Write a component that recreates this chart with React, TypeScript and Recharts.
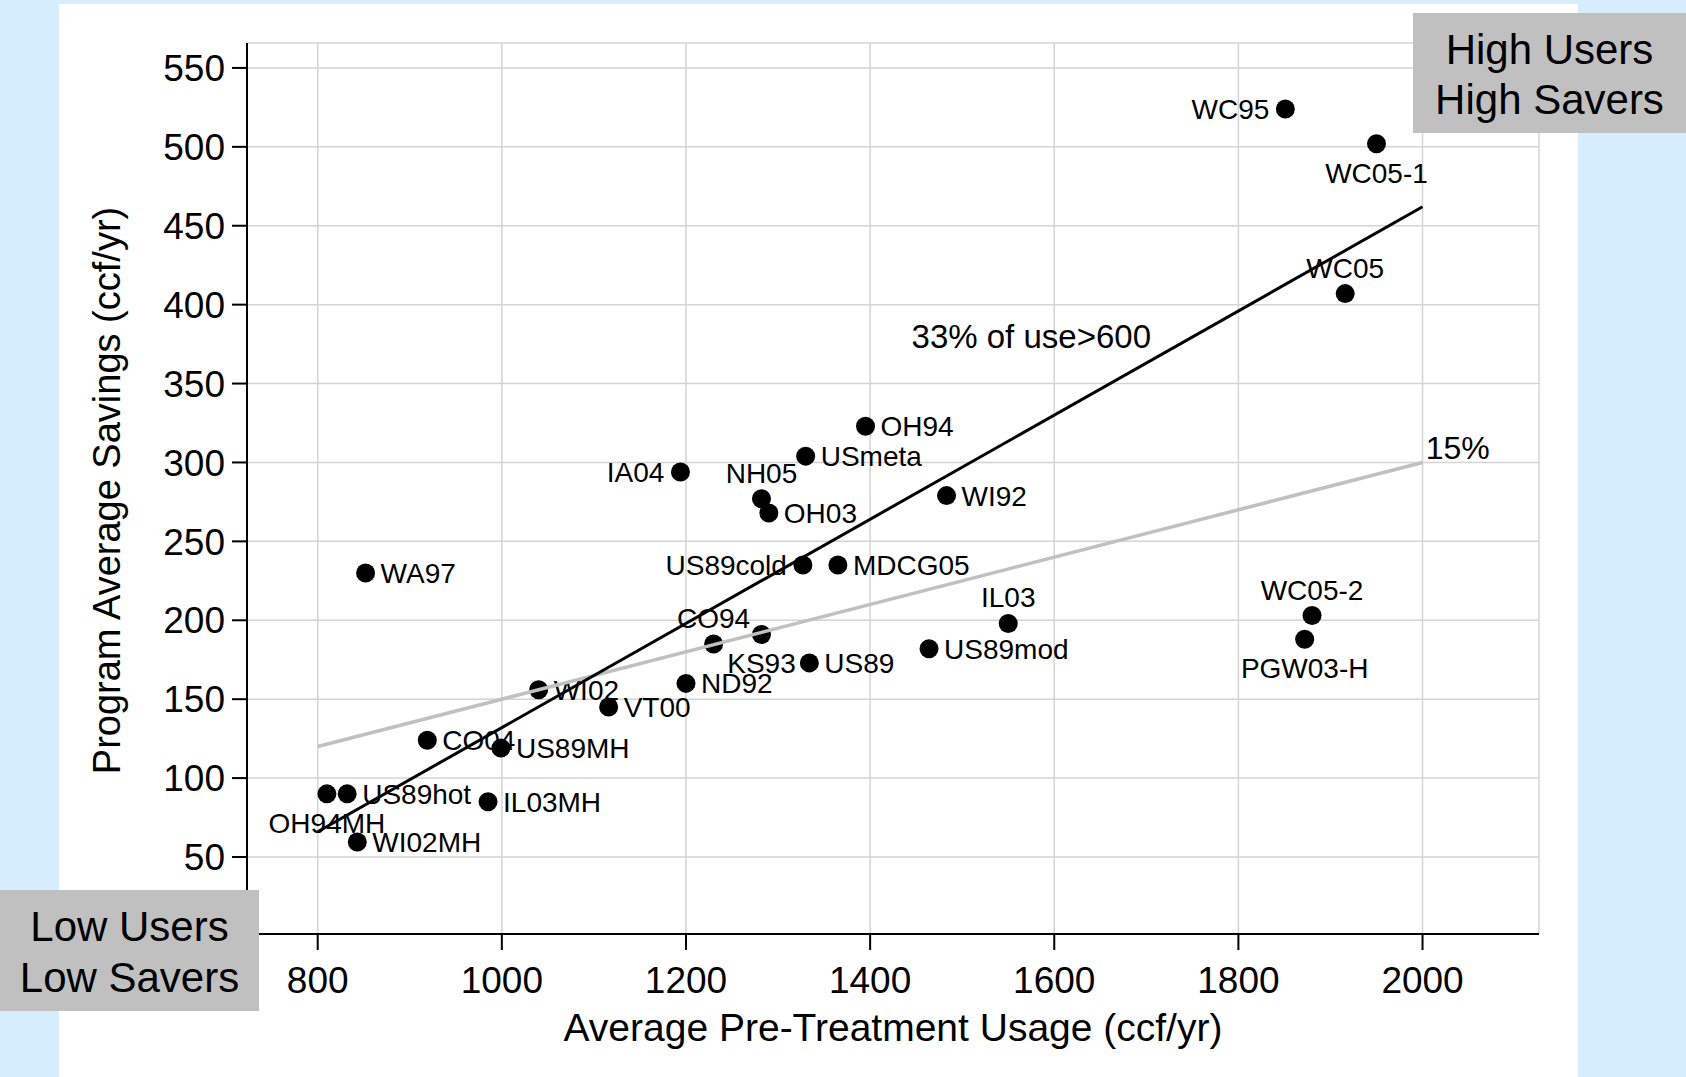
import React from "react";
import {
  ScatterChart,
  Scatter,
  XAxis,
  YAxis,
  CartesianGrid,
} from "recharts";

// programs: pre-treatment usage (ccf/yr) vs. average savings (ccf/yr)
const programs = [
  "WC95", "WC05-1", "WC05", "WC05-2", "PGW03-H", "OH94", "USmeta", "IA04",
  "NH05", "OH03", "WI92", "US89cold", "MDCG05", "IL03", "US89mod", "CO94",
  "KS93", "US89", "ND92", "WI02", "VT00", "CO04", "US89MH", "WA97",
  "US89hot", "OH94MH", "IL03MH", "WI02MH",
];
const usage = [
  1851, 1950, 1916, 1880, 1872, 1395, 1330, 1194,
  1282, 1290, 1483, 1327, 1365, 1550, 1464, 1230,
  1282, 1334, 1200, 1040, 1116, 919, 999, 852,
  832, 810, 985, 843,
];
const savings = [
  524, 502, 407, 203, 188, 323, 304, 294,
  277, 268, 279, 235, 235, 198, 182, 185,
  191, 173, 160, 156, 145, 124, 119, 230,
  90, 90, 85, 59.5,
];
// where each program's label sits: r = right, l = left, t = above, b = below
const labelSide = [
  "l", "b", "t", "t", "b", "r", "r", "l",
  "t", "r", "r", "l", "r", "t", "r", "t",
  "b", "r", "r", "r", "r", "r", "r", "r",
  "r", "b", "r", "r",
];

// reference lines: 33% of use above 600, and 15% of use
const line33Usage = [800, 2000];
const line33Savings = [66, 462];
const line15Usage = [800, 2000];
const line15Savings = [120, 300];

const noteText = ["33% of use>600", "15%"];
const noteUsage = [1445, 2003.5];
const noteSavings = [372.5, 302.5];
const noteSize = [33, 32];

const xTicks = [800, 1000, 1200, 1400, 1600, 1800, 2000];
const yTicks = [50, 100, 150, 200, 250, 300, 350, 400, 450, 500, 550];

const points = programs.map((name, i) => ({
  name,
  x: usage[i],
  y: savings[i],
  side: labelSide[i],
}));
const line33 = line33Usage.map((x, i) => ({ x, y: line33Savings[i] }));
const line15 = line15Usage.map((x, i) => ({ x, y: line15Savings[i] }));
const notes = noteText.map((text, i) => ({
  text,
  x: noteUsage[i],
  y: noteSavings[i],
  size: noteSize[i],
}));

const FONT = '"Liberation Sans", Arial, Helvetica, sans-serif';

const PointShape = (props: any) => {
  const { cx, cy, payload } = props;
  if (cx == null || cy == null) return <g />;
  let tx = cx;
  let ty = cy + 10;
  let anchor: "start" | "middle" | "end" = "start";
  if (payload.side === "r") {
    tx = cx + 15;
  } else if (payload.side === "l") {
    tx = cx - 16;
    anchor = "end";
  } else if (payload.side === "t") {
    ty = cy - 16;
    anchor = "middle";
  } else {
    ty = cy + 39;
    anchor = "middle";
  }
  return (
    <g>
      <circle cx={cx} cy={cy} r={9.5} fill="#000" />
      <text x={tx} y={ty} textAnchor={anchor} fontSize={28} fill="#000">
        {payload.name}
      </text>
    </g>
  );
};

const NoteShape = (props: any) => {
  const { cx, cy, payload } = props;
  return (
    <text x={cx} y={cy} fontSize={payload.size} fill="#000">
      {payload.text}
    </text>
  );
};

const Empty = () => <g />;

const XTitle = (props: any) => {
  const vb = props.viewBox || { x: 247, y: 934, width: 1292 };
  return (
    <text x={vb.x + vb.width / 2} y={vb.y + 107} textAnchor="middle" fontSize={39} fill="#000">
      Average Pre-Treatment Usage (ccf/yr)
    </text>
  );
};

const YTitle = (props: any) => {
  const vb = props.viewBox || { x: 127, y: 43, width: 120, height: 891 };
  const bx = vb.x + vb.width - 127;
  const cy = vb.y + vb.height / 2 + 2;
  return (
    <text
      transform={`translate(${bx},${cy}) rotate(-90)`}
      textAnchor="middle"
      fontSize={38}
      fill="#000"
    >
      Program Average Savings (ccf/yr)
    </text>
  );
};

export default function App() {
  return (
    <div
      style={{
        position: "absolute",
        left: 0,
        top: 0,
        width: 1686,
        height: 1077,
        background: "#D5EDFC",
        overflow: "hidden",
        fontFamily: FONT,
      }}
    >
      <div
        style={{
          position: "absolute",
          left: 59,
          top: 4,
          width: 1519,
          height: 1073,
          background: "#fff",
        }}
      />
      <div style={{ position: "absolute", left: 0, top: 0 }}>
        <ScatterChart
          width={1686}
          height={1077}
          margin={{ top: 43, right: 147, bottom: 43, left: 127 }}
          style={{ fontFamily: FONT }}
        >
          <CartesianGrid stroke="#d4d4d4" strokeWidth={1.5} />
          <XAxis
            type="number"
            dataKey="x"
            domain={[723.2, 2126.5]}
            allowDataOverflow
            ticks={xTicks}
            interval={0}
            height={100}
            tickSize={16}
            tickMargin={17}
            axisLine={{ stroke: "#000", strokeWidth: 2 }}
            tickLine={{ stroke: "#000", strokeWidth: 2 }}
            tick={{ fill: "#000", fontSize: 37 }}
            label={XTitle}
          />
          <YAxis
            type="number"
            dataKey="y"
            domain={[1.2, 565.8]}
            allowDataOverflow
            ticks={yTicks}
            interval={0}
            width={120}
            tickSize={15}
            tickMargin={7}
            axisLine={{ stroke: "#000", strokeWidth: 2 }}
            tickLine={{ stroke: "#000", strokeWidth: 2 }}
            tick={{ fill: "#000", fontSize: 37 }}
            label={YTitle}
          />
          <Scatter data={points} shape={PointShape} isAnimationActive={false} />
          <Scatter
            data={line15}
            line={{ stroke: "#c0c0c0", strokeWidth: 3.5 }}
            shape={Empty}
            isAnimationActive={false}
          />
          <Scatter
            data={line33}
            line={{ stroke: "#000", strokeWidth: 3 }}
            shape={Empty}
            isAnimationActive={false}
          />
          <Scatter data={notes} shape={NoteShape} isAnimationActive={false} />
        </ScatterChart>
      </div>
      <svg
        width={1686}
        height={1077}
        style={{ position: "absolute", left: 0, top: 0, pointerEvents: "none" }}
      >
        <rect x={1413} y={13} width={273} height={120} fill="#c0c0c0" />
        <text x={1549.5} y={64} textAnchor="middle" fontSize={42} fill="#000">
          High Users
        </text>
        <text x={1549.5} y={114} textAnchor="middle" fontSize={42} fill="#000">
          High Savers
        </text>
        <rect x={0} y={890} width={259} height={121} fill="#c0c0c0" />
        <text x={129.5} y={941} textAnchor="middle" fontSize={42} fill="#000">
          Low Users
        </text>
        <text x={129.5} y={992} textAnchor="middle" fontSize={42} fill="#000">
          Low Savers
        </text>
      </svg>
    </div>
  );
}
